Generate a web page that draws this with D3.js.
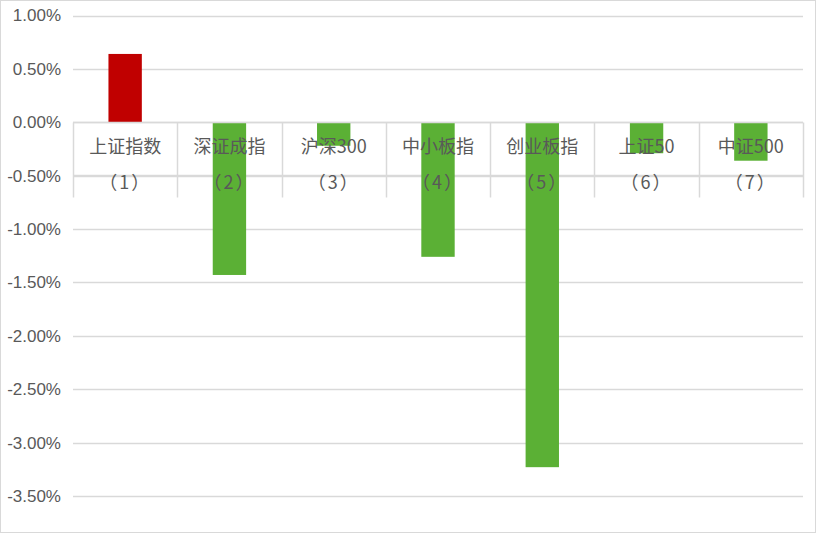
<!DOCTYPE html>
<html><head><meta charset="utf-8">
<script src="https://cdn.jsdelivr.net/npm/d3@7"></script>
<style>body{margin:0;background:#fff}svg{display:block}</style>
</head><body>
<svg id="c" width="816" height="533"></svg>
<script>
const categories = ["上证指数","深证成指","沪深300","中小板指","创业板指","上证50","中证500"];
const subLabels = ["（1）","（2）","（3）","（4）","（5）","（6）","（7）"];
const values = [0.64, -1.43, -0.22, -1.26, -3.23, -0.29, -0.36];
const yTicks = [1.0, 0.5, 0, -0.5, -1.0, -1.5, -2.0, -2.5, -3.0, -3.5];

(function(){
const svg = d3.select("#c");
const W = 816, H = 533;
const mLeft = 73, mRight = 803, mTop = 15.5, mBottom = 496;
svg.append("rect").attr("x",0.5).attr("y",0.5).attr("width",W-1).attr("height",H-1)
  .attr("fill","#fff").attr("stroke","#d9d9d9");

const x = d3.scaleBand().domain(categories).range([mLeft,mRight]).paddingInner(0).paddingOuter(0);
const y = d3.scaleLinear().domain([-3.5,1.0]).range([mBottom,mTop]);

svg.append("g").selectAll("line").data(yTicks).join("line")
  .attr("x1",mLeft).attr("x2",mRight)
  .attr("y1",d=>Math.round(y(d))+0.5).attr("y2",d=>Math.round(y(d))+0.5)
  .attr("stroke","#d9d9d9").attr("stroke-width",1.5);

const fmt = d3.formatLocale({decimal:".",thousands:",",grouping:[3],currency:["",""],minus:"-"}).format(".2f");
const yAxis = d3.axisLeft(y).tickValues(yTicks).tickSize(0).tickPadding(12)
  .tickFormat(d=>fmt(d)+"%");
const ga = svg.append("g").attr("transform",`translate(${mLeft},0)`).call(yAxis);
ga.select(".domain").remove();
ga.selectAll("text").attr("font-family","'Liberation Sans', sans-serif")
  .attr("font-size",17).attr("fill","#595959");

const y0 = Math.round(y(0))+0.5;
const tbl = svg.append("g").attr("stroke","#d9d9d9").attr("stroke-width",1.5);
tbl.append("line").attr("x1",mLeft).attr("x2",mRight).attr("y1",y0+53).attr("y2",y0+53);
const bounds = categories.map(c=>x(c)).concat([mRight]);
tbl.selectAll("line.v").data(bounds).join("line").attr("class","v")
  .attr("x1",d=>Math.round(d)+0.5).attr("x2",d=>Math.round(d)+0.5)
  .attr("y1",y0).attr("y2",y0+75);

const bw = x.bandwidth()*0.32;
svg.append("g").selectAll("rect").data(values).join("rect")
  .attr("x",(d,i)=>x(categories[i])+x.bandwidth()/2-bw/2)
  .attr("width",bw)
  .attr("y",d=>d>=0?y(d):y(0))
  .attr("height",d=>Math.abs(y(d)-y(0)))
  .attr("fill",d=>d>=0?"#c00000":"#5bb035");

svg.append("line").attr("x1",mLeft).attr("x2",mRight).attr("y1",y0).attr("y2",y0)
  .attr("stroke","#d9d9d9").attr("stroke-width",1.5);

const lab = svg.append("g").attr("font-family","'Noto Sans CJK SC', 'Liberation Sans', sans-serif")
  .attr("font-size",18).attr("fill","#595959").attr("text-anchor","middle");
lab.selectAll("text.c").data(categories).join("text").attr("class","c")
  .attr("x",d=>x(d)+x.bandwidth()/2).attr("y",y0+30).text(d=>d);
lab.selectAll("text.s").data(subLabels).join("text").attr("class","s")
  .attr("x",(d,i)=>x(categories[i])+x.bandwidth()/2).attr("y",y0+66)
  .attr("letter-spacing",2).text(d=>d);
})();
</script>
</body></html>
